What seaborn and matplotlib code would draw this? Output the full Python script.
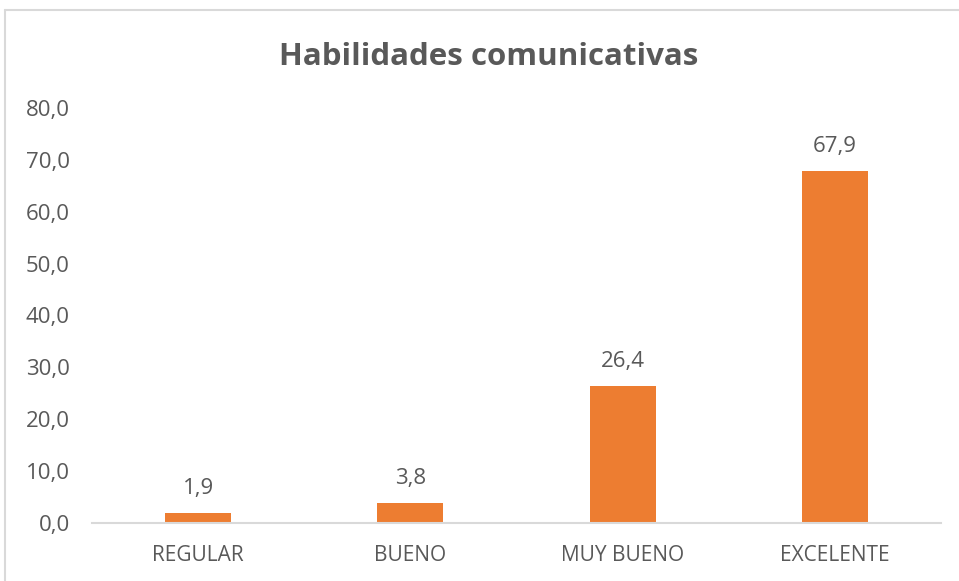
import matplotlib
matplotlib.use("Agg")
import matplotlib.pyplot as plt
import seaborn as sns
import pandas as pd
from matplotlib.lines import Line2D

categories = ["REGULAR", "BUENO", "MUY BUENO", "EXCELENTE"]
values = [1.9, 3.8, 26.4, 67.9]
yticks = [0, 10, 20, 30, 40, 50, 60, 70, 80]
title = "Habilidades comunicativas"

sns.set_theme(style="white")
plt.rcParams['font.family'] = ['Open Sans', 'DejaVu Sans']

TXT = "#595959"
BAR = "#ED7D31"

W, H = 959, 581
fig = plt.figure(figsize=(W / 100, H / 100), dpi=100)
ax = fig.add_axes([92 / W, (H - 523) / H, (941 - 92) / W, (523 - 108) / H])

df = pd.DataFrame({"cat": categories, "val": values})
sns.barplot(data=df, x="cat", y="val", color=BAR, width=0.31, ax=ax,
            saturation=1, edgecolor="none")

ax.set_ylim(0, 80)
ax.set_xlim(-0.5, len(categories) - 0.5)
ax.set_yticks(yticks)
ax.set_yticklabels([f"{v:.1f}".replace(".", ",") for v in yticks])
ax.set_xlabel("")
ax.set_ylabel("")
ax.tick_params(axis="both", length=0, colors=TXT)
ax.tick_params(axis="y", pad=16, labelsize=16)
ax.tick_params(axis="x", pad=16, labelsize=15)
for s in ["top", "right", "left"]:
    ax.spines[s].set_visible(False)
ax.spines["bottom"].set_color("#D9D9D9")
ax.spines["bottom"].set_linewidth(1.5)

for c in ax.containers:
    ax.bar_label(c, labels=[f"{v:.1f}".replace(".", ",") for v in values],
                 padding=10, color=TXT, fontsize=16)

fig.text(489 / W, 1 - 65 / H, title, ha="center", va="baseline",
         fontsize=22.5, fontweight="bold", color=TXT)

# chart frame border (top and left visible)
fig.add_artist(Line2D([5 / W, 1], [1 - 10 / H, 1 - 10 / H], color="#D9D9D9",
                      lw=1.5, transform=fig.transFigure))
fig.add_artist(Line2D([5 / W, 5 / W], [0, 1 - 10 / H], color="#D9D9D9",
                      lw=1.5, transform=fig.transFigure))

fig.savefig("out.png", dpi=100)
